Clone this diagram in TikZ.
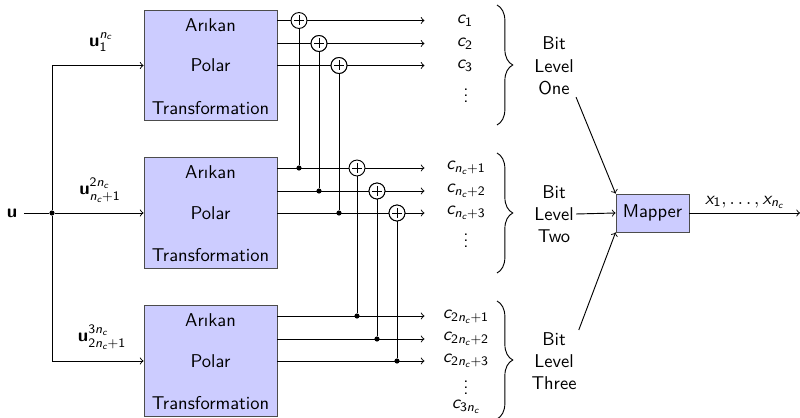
\documentclass[tikz,border=0pt]{standalone}
\usepackage{amsmath}
\usetikzlibrary{decorations.pathreplacing,calc}
\newcommand\sv[1]{\text{\sffamily\itshape #1}}
\newcommand\sn[1]{\text{\sffamily #1}}
\newcommand\sbu{\text{\sffamily\bfseries u}}
\newcommand\vdts{\vbox{\baselineskip3.3pt\lineskiplimit0pt\hbox{.}\hbox{.}\hbox{.}}}
\begin{document}
\begin{tikzpicture}[x=0.54pt,y=-0.54pt,
  font=\sffamily,
  line width=0.5pt,
  >=to,
  ptbox/.style={draw=black!70, fill=blue!20, minimum width=71.8pt, minimum height=59.9pt, inner sep=0pt},
  mapbox/.style={draw=black!70, fill=blue!20, minimum width=39.4pt, minimum height=20.5pt, inner sep=0pt},
  xor/.style={circle, draw, fill=white, minimum size=8.6pt, inner sep=0pt,
    path picture={\draw ([yshift=2.7pt]path picture bounding box.center) -- ([yshift=-2.7pt]path picture bounding box.center)
                        ([xshift=-2.7pt]path picture bounding box.center) -- ([xshift=2.7pt]path picture bounding box.center);}},
  dot/.style={circle, fill, minimum size=2.8pt, inner sep=0pt},
  bits/.style={align=center, inner sep=1pt},
  clab/.style={inner sep=0.5pt},
  bracestyle/.style={decorate, decoration={brace, amplitude=8.5pt}}
]
\useasboundingbox (0,0) rectangle (800,418);

% boxes
\node[ptbox] (B1) at (210.5,65.5) {};
\node[ptbox] (B2) at (210.5,213) {};
\node[ptbox] (B3) at (210.5,361) {};
\foreach \b in {B1,B2,B3}{
  \node at ($(\b.center)+(0,-40.5)$) {Arıkan};
  \node at (\b.center) {Polar};
  \node at ($(\b.center)+(0,42.5)$) {Transformation};
}

% input
\node (u) at (12,213) {$\sbu$};
\node[dot] (J) at (52,213) {};
\coordinate (J1) at (52,65.5);
\coordinate (J3) at (52,361);
\draw (u) -- (J);
\draw[->] (J) -- (B2.west);
\draw[->] (J) -- (J1) -- (B1.west);
\draw[->] (J) -- (J3) -- (B3.west);
\node at (101,42) {$\sbu_{\sn{1}}^{\sv{n}_{\sv{c}}}$};
\node at (100,190) {$\sbu_{\sv{n}_{\sv{c}}\sn{+1}}^{\sn{2}\sv{n}_{\sv{c}}}$};
\node at (102,337) {$\sbu_{\sn{2}\sv{n}_{\sv{c}}\sn{+1}}^{\sn{3}\sv{n}_{\sv{c}}}$};

% row start coordinates and end coordinates
\foreach \b/\i in {B1/1,B2/2,B3/3}{
  \coordinate (s\i1) at ($(\b.east)+(0,-45)$);
  \coordinate (s\i2) at ($(\b.east)+(0,-22)$);
  \coordinate (s\i3) at (\b.east);
  \coordinate (e\i1) at ($(s\i1)+(147,0)$);
  \coordinate (e\i2) at ($(s\i2)+(147,0)$);
  \coordinate (e\i3) at ($(s\i3)+(147,0)$);
}

% xors
\node[xor] (X11) at (299,20.5) {};
\node[xor] (X12) at (319,43.5) {};
\node[xor] (X13) at (339,65.5) {};
\node[xor] (X21) at (357,168) {};
\node[xor] (X22) at (377,191) {};
\node[xor] (X23) at (397,213) {};

% junction dots
\node[dot] (D21) at (299,168) {};
\node[dot] (D22) at (319,191) {};
\node[dot] (D23) at (339,213) {};
\node[dot] (D31) at (357,316) {};
\node[dot] (D32) at (377,339) {};
\node[dot] (D33) at (397,361) {};

% rows box 1
\draw (s11) -- (X11.west); \draw[->] (X11.east) -- (e11);
\draw (s12) -- (X12.west); \draw[->] (X12.east) -- (e12);
\draw (s13) -- (X13.west); \draw[->] (X13.east) -- (e13);
% rows box 2
\draw (s21) -- (X21.west); \draw[->] (X21.east) -- (e21);
\draw (s22) -- (X22.west); \draw[->] (X22.east) -- (e22);
\draw (s23) -- (X23.west); \draw[->] (X23.east) -- (e23);
% rows box 3
\draw[->] (s31) -- (e31);
\draw[->] (s32) -- (e32);
\draw[->] (s33) -- (e33);
% verticals
\draw (X11.south) -- (D21);
\draw (X12.south) -- (D22);
\draw (X13.south) -- (D23);
\draw (X21.south) -- (D31);
\draw (X22.south) -- (D32);
\draw (X23.south) -- (D33);
% redraw xors on top
\node[xor] at (X12) {};
\node[xor] at (X13) {};
\node[xor] at (X22) {};
\node[xor] at (X23) {};

% c labels
\node[clab] (c1) at (465,21) {$\sv{c}_{\sn{1}}$};
\node[clab] (c2) at (465,43.5) {$\sv{c}_{\sn{2}}$};
\node[clab] (c3) at (465,65.5) {$\sv{c}_{\sn{3}}$};
\node[clab] (v1) at (466,96) {\vdts};
\node[clab] (c4) at (466,168) {$\sv{c}_{\sv{n}_{\sv{c}}\sn{+1}}$};
\node[clab] (c5) at (466,191) {$\sv{c}_{\sv{n}_{\sv{c}}\sn{+2}}$};
\node[clab] (c6) at (466,213) {$\sv{c}_{\sv{n}_{\sv{c}}\sn{+3}}$};
\node[clab] (v2) at (466,241) {\vdts};
\node[clab] (c7) at (466,317) {$\sv{c}_{\sn{2}\sv{n}_{\sv{c}}\sn{+1}}$};
\node[clab] (c8) at (466,339) {$\sv{c}_{\sn{2}\sv{n}_{\sv{c}}\sn{+2}}$};
\node[clab] (c9) at (466,361) {$\sv{c}_{\sn{2}\sv{n}_{\sv{c}}\sn{+3}}$};
\node[clab] (v3) at (466,388) {\vdts};
\node[clab] (c10) at (466,407) {$\sv{c}_{\sn{3}\sv{n}_{\sv{c}}}$};

% braces
\draw[bracestyle] (497,5) -- (497,125);
\draw[bracestyle] (497,153) -- (497,273);
\draw[bracestyle] (497,301) -- (497,419);

% bit levels
\node[bits] (L1) at (554,66) {Bit\\Level\\One};
\node[bits] (L2) at (554,214) {Bit\\Level\\Two};
\node[bits] (L3) at (554,361) {Bit\\Level\\Three};

% mapper
\node[mapbox] (M) at (652.5,213) {Mapper};
\coordinate (out) at (800,213);
\draw[->] (L1.south east) -- (M.north west);
\draw[->] (L2.east) -- (M.west);
\draw[->] (L3.north east) -- (M.south west);
\draw[->] (M.east) -- node[above, inner sep=2pt] {$\sv{x}_{\sn{1}},\ldots,\sv{x}_{\sv{n}_{\sv{c}}}$} (out);
\end{tikzpicture}
\end{document}
